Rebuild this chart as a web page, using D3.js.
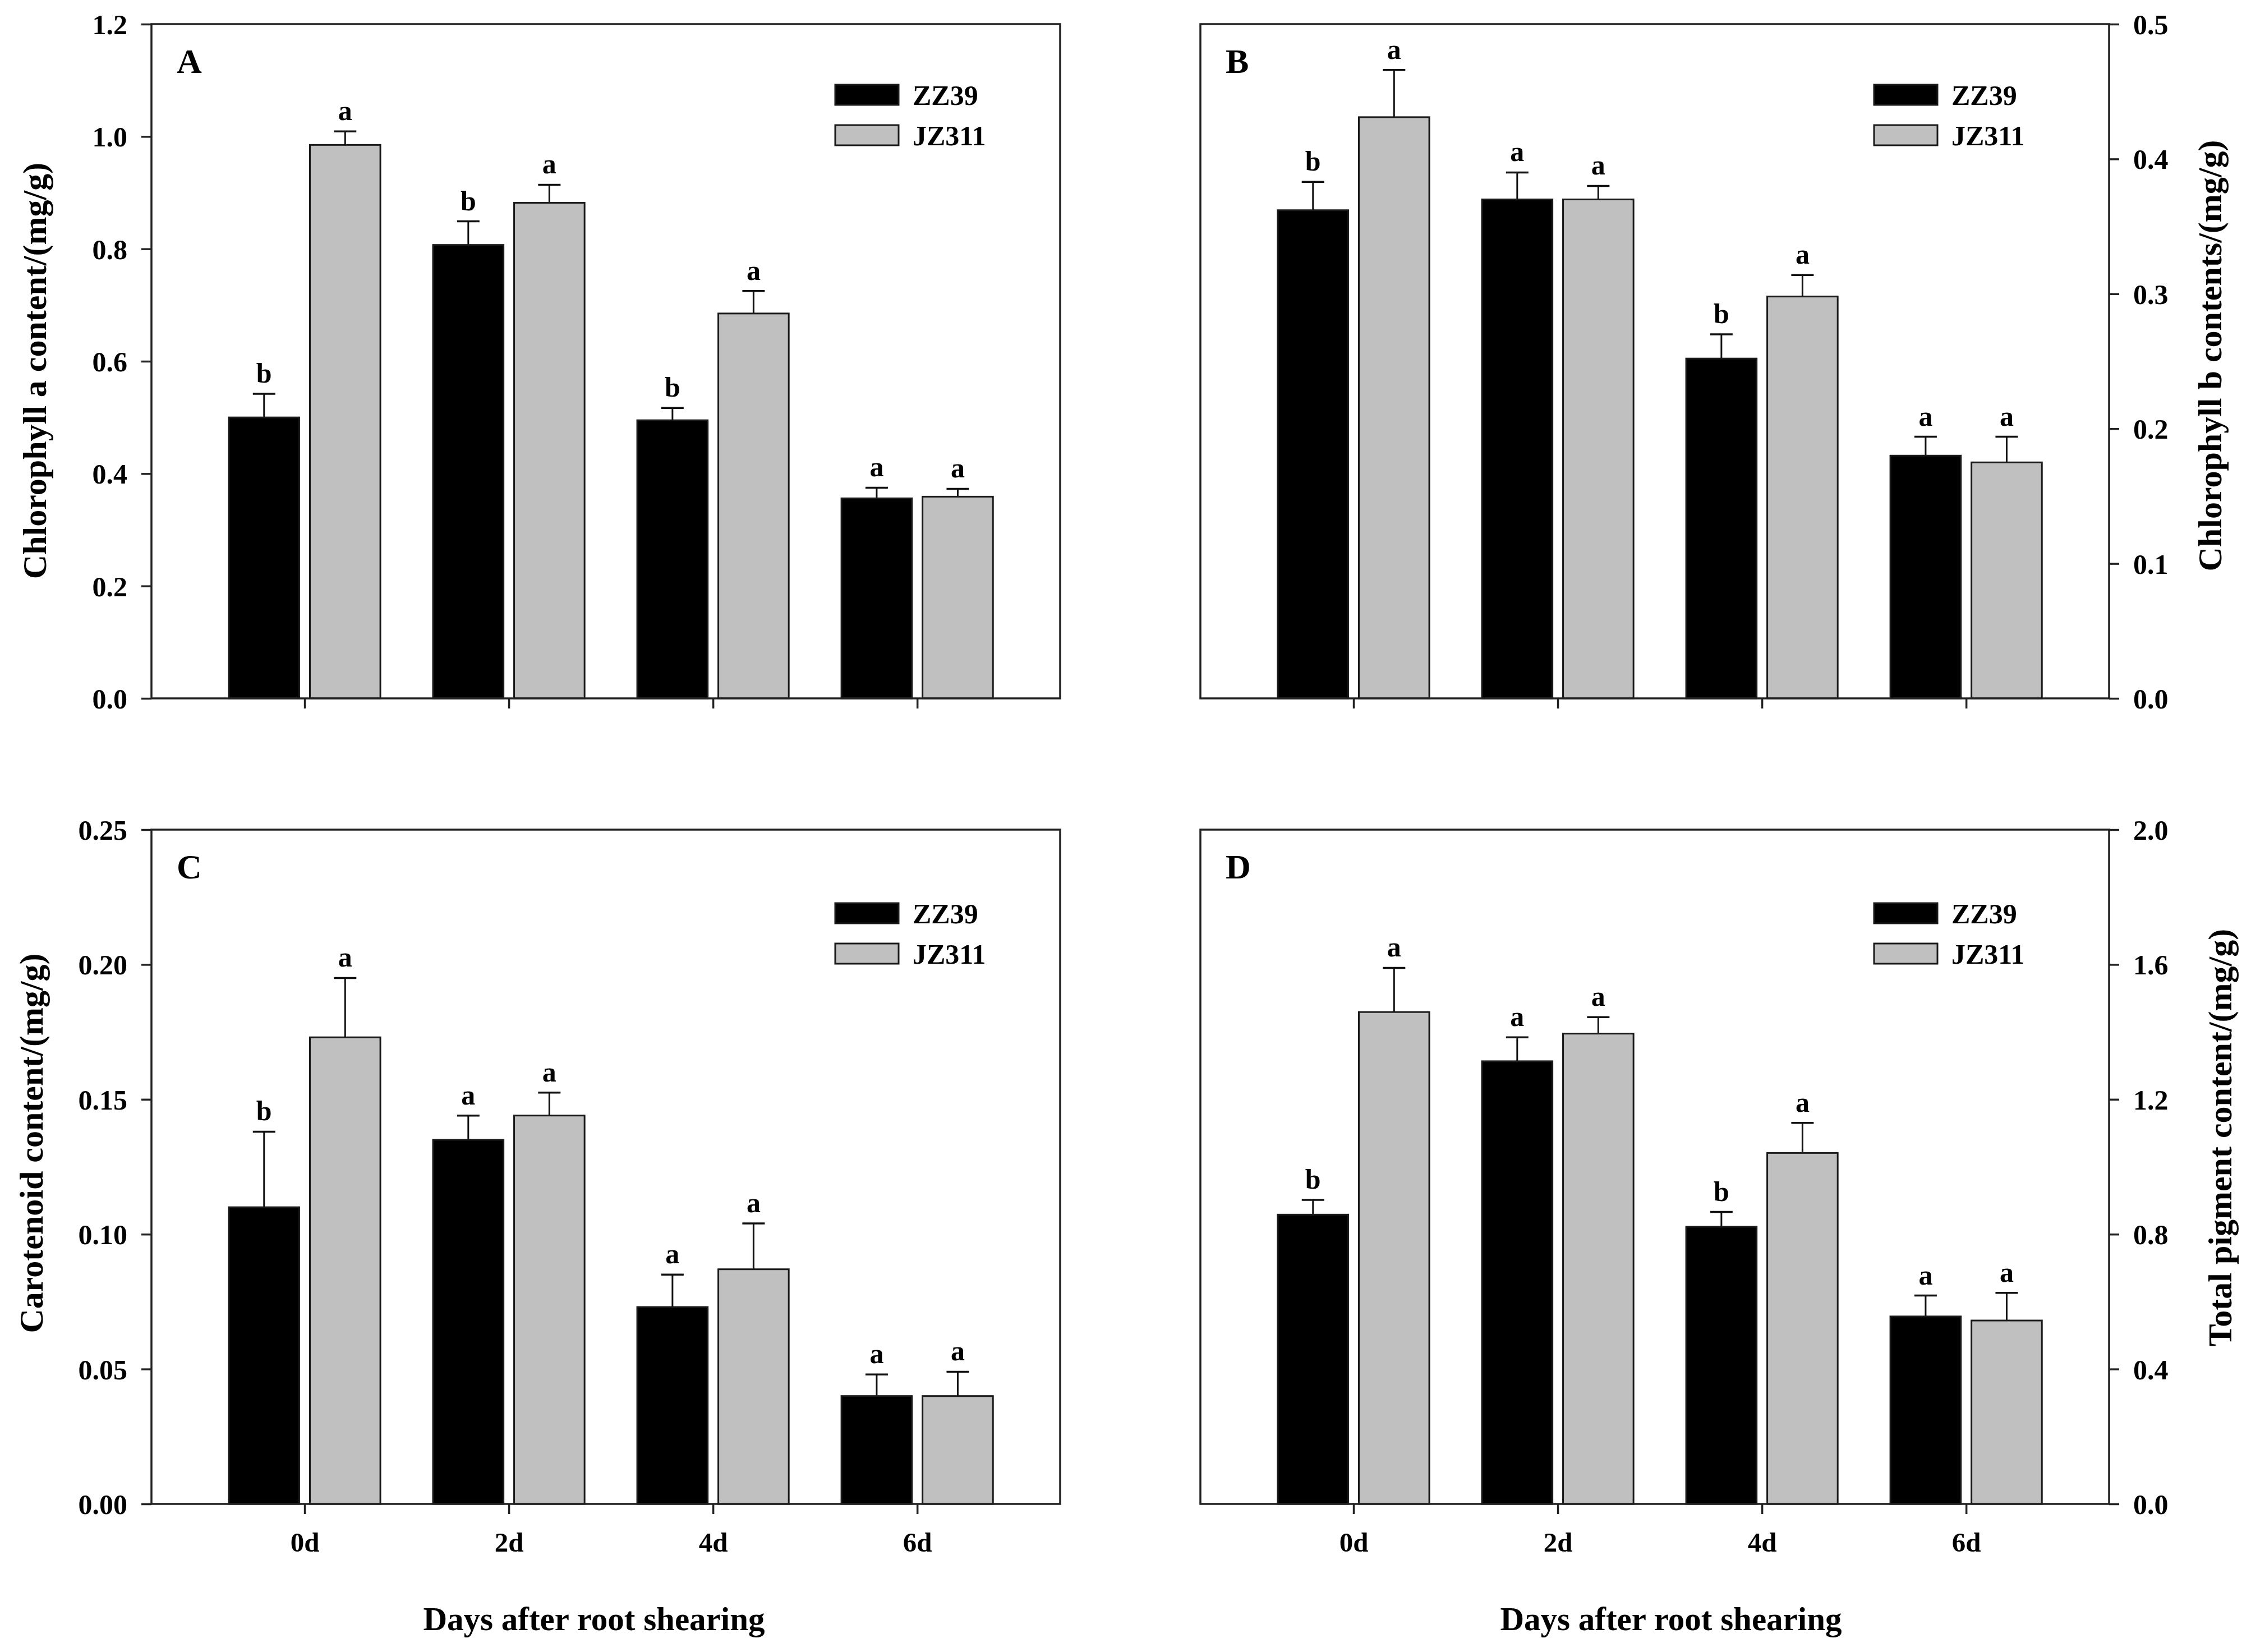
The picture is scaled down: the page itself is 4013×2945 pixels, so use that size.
<!DOCTYPE html>
<html>
<head>
<meta charset="utf-8">
<script src="https://cdn.jsdelivr.net/npm/d3@7"></script>
<style>
  body { margin: 0; background: #fff; }
  svg { display: block; }
  text { font-family: "Liberation Serif", "Times New Roman", serif; font-weight: bold; fill: #000; }
</style>
</head>
<body>
<svg id="chart" width="4013" height="2945"></svg>
<script>
// categories
const days = ['0d', '2d', '4d', '6d'];
const cultivars = ['ZZ39', 'JZ311'];

// A: chlorophyll a
const chlA_zz39 = [0.500, 0.807, 0.495, 0.356];
const chlA_zz39_err = [0.042, 0.042, 0.022, 0.019];
const chlA_jz311 = [0.985, 0.882, 0.685, 0.359];
const chlA_jz311_err = [0.024, 0.032, 0.040, 0.014];
const chlA_zz39_sig = ['b', 'b', 'b', 'a'];
const chlA_jz311_sig = ['a', 'a', 'a', 'a'];
const chlA_ticks = [0, 0.2, 0.4, 0.6, 0.8, 1.0, 1.2];

// B: chlorophyll b
const chlB_zz39 = [0.362, 0.370, 0.252, 0.180];
const chlB_zz39_err = [0.021, 0.020, 0.018, 0.014];
const chlB_jz311 = [0.431, 0.370, 0.298, 0.175];
const chlB_jz311_err = [0.035, 0.010, 0.016, 0.019];
const chlB_zz39_sig = ['b', 'a', 'b', 'a'];
const chlB_jz311_sig = ['a', 'a', 'a', 'a'];
const chlB_ticks = [0, 0.1, 0.2, 0.3, 0.4, 0.5];

// C: carotenoid
const car_zz39 = [0.110, 0.135, 0.073, 0.040];
const car_zz39_err = [0.028, 0.009, 0.012, 0.008];
const car_jz311 = [0.173, 0.144, 0.087, 0.040];
const car_jz311_err = [0.022, 0.0085, 0.017, 0.009];
const car_zz39_sig = ['b', 'a', 'a', 'a'];
const car_jz311_sig = ['a', 'a', 'a', 'a'];
const car_ticks = [0, 0.05, 0.10, 0.15, 0.20, 0.25];

// D: total pigment
const tot_zz39 = [0.858, 1.313, 0.822, 0.556];
const tot_zz39_err = [0.044, 0.071, 0.044, 0.062];
const tot_jz311 = [1.459, 1.395, 1.041, 0.544];
const tot_jz311_err = [0.131, 0.049, 0.089, 0.082];
const tot_zz39_sig = ['b', 'a', 'b', 'a'];
const tot_jz311_sig = ['a', 'a', 'a', 'a'];
const tot_ticks = [0, 0.4, 0.8, 1.2, 1.6, 2.0];

const colors = ['#000000', '#c0c0c0'];
const xTitle = 'Days after root shearing';

const panels = [
    {letter: 'A', left: 270, top: 43, side: 'left', max: 1.2, ticks: chlA_ticks, fmt: '.1f',
     title: 'Chlorophyll a content/(mg/g)', titleX: 64, titleY: 661, legDx: 1219, legDy: 108,
     series: [[chlA_zz39, chlA_zz39_err, chlA_zz39_sig], [chlA_jz311, chlA_jz311_err, chlA_jz311_sig]]},
    {letter: 'B', left: 2140, top: 43, side: 'right', max: 0.5, ticks: chlB_ticks, fmt: '.1f',
     title: 'Chlorophyll b contents/(mg/g)', titleX: 3942, titleY: 634, legDx: 1201, legDy: 108,
     series: [[chlB_zz39, chlB_zz39_err, chlB_zz39_sig], [chlB_jz311, chlB_jz311_err, chlB_jz311_sig]]},
    {letter: 'C', left: 270, top: 1479, side: 'left', max: 0.25, ticks: car_ticks, fmt: '.2f',
     title: 'Carotenoid content/(mg/g)', titleX: 58, titleY: 2038, legDx: 1219, legDy: 131,
     xLabels: true, xTitleX: 1059,
     series: [[car_zz39, car_zz39_err, car_zz39_sig], [car_jz311, car_jz311_err, car_jz311_sig]]},
    {letter: 'D', left: 2140, top: 1479, side: 'right', max: 2.0, ticks: tot_ticks, fmt: '.1f',
     title: 'Total pigment content/(mg/g)', titleX: 3960, titleY: 2028, legDx: 1201, legDy: 131,
     xLabels: true, xTitleX: 2979,
     series: [[tot_zz39, tot_zz39_err, tot_zz39_sig], [tot_jz311, tot_jz311_err, tot_jz311_sig]]}
];

const width = 1620, height = 1202;
const svg = d3.select('#chart');
svg.append('rect').attr('width', 4013).attr('height', 2945).attr('fill', '#fff');

function drawPanel(p) {
    let g = svg.append('g').attr('transform', `translate(${p.left},${p.top})`),
        x = d3.scaleLinear().domain([-0.75, 3.7]).range([0, width]),
        y = d3.scaleLinear().domain([0, p.max]).range([height, 0]),
        step = x(1) - x(0),
        bw = step * 0.345,
        gap = step * 0.052;

    // bars, error bars, letters
    p.series.forEach(function(s, k) {
        let rows = s[0].map((v, i) => ({i: i, v: v, e: s[1][i], sig: s[2][i]}));
        let bx = d => k === 0 ? x(d.i) - gap / 2 - bw : x(d.i) + gap / 2;
        let sg = g.append('g');
        sg.selectAll('line.err').data(rows).enter().append('line')
            .attr('class', 'err')
            .attr('x1', d => bx(d) + bw / 2).attr('x2', d => bx(d) + bw / 2)
            .attr('y1', d => y(d.v)).attr('y2', d => y(d.v + d.e))
            .attr('stroke', '#111').attr('stroke-width', 3);
        sg.selectAll('line.cap').data(rows).enter().append('line')
            .attr('class', 'cap')
            .attr('x1', d => bx(d) + bw / 2 - 20).attr('x2', d => bx(d) + bw / 2 + 20)
            .attr('y1', d => y(d.v + d.e)).attr('y2', d => y(d.v + d.e))
            .attr('stroke', '#111').attr('stroke-width', 3.5);
        sg.selectAll('rect').data(rows).enter().append('rect')
            .attr('x', bx).attr('width', bw)
            .attr('y', d => y(d.v)).attr('height', d => height - y(d.v))
            .attr('fill', colors[k]).attr('stroke', '#1a1a1a').attr('stroke-width', 3);
        sg.selectAll('text').data(rows).enter().append('text')
            .attr('x', d => bx(d) + bw / 2).attr('y', d => y(d.v + d.e) - 20)
            .attr('text-anchor', 'middle').style('font-size', '50px')
            .text(d => d.sig);
    });

    // frame
    g.append('rect').attr('width', width).attr('height', height)
        .attr('fill', 'none').attr('stroke', '#222').attr('stroke-width', 3.5);

    // y axis
    let yAxis = (p.side === 'left' ? d3.axisLeft(y) : d3.axisRight(y))
        .tickValues(p.ticks).tickFormat(d3.format(p.fmt))
        .tickSize(18).tickSizeOuter(0).tickPadding(25);
    let ya = g.append('g')
        .attr('transform', p.side === 'left' ? null : `translate(${width},0)`)
        .call(yAxis);
    ya.select('.domain').remove();
    ya.selectAll('line').attr('stroke', '#222').attr('stroke-width', 3.5);
    ya.selectAll('text').style('font-size', '50px').style('font-family', null).attr('dy', '0.35em');
    ya.attr('font-family', null).attr('font-size', null);

    // x axis
    let xAxis = d3.axisBottom(x).tickValues([0, 1, 2, 3])
        .tickFormat(i => p.xLabels ? days[i] : '')
        .tickSize(18).tickSizeOuter(0).tickPadding(32);
    let xa = g.append('g').attr('transform', `translate(0,${height})`).call(xAxis);
    xa.select('.domain').remove();
    xa.selectAll('line').attr('stroke', '#222').attr('stroke-width', 3.5);
    xa.selectAll('text').style('font-size', '49px');
    xa.attr('font-family', null).attr('font-size', null);

    // panel letter
    g.append('text').attr('x', 45).attr('y', 87).style('font-size', '62px').text(p.letter);

    // legend
    let leg = g.append('g').attr('transform', `translate(${p.legDx},${p.legDy})`);
    cultivars.forEach(function(c, k) {
        leg.append('rect').attr('x', 0).attr('y', k * 72).attr('width', 113).attr('height', 36)
            .attr('fill', colors[k]).attr('stroke', '#1a1a1a').attr('stroke-width', 3);
        leg.append('text').attr('x', 138).attr('y', k * 72 + 18).attr('dy', '0.36em')
            .style('font-size', '50px').text(c);
    });

    // y title
    svg.append('text')
        .attr('transform', `translate(${p.titleX},${p.titleY}) rotate(-90)`)
        .attr('text-anchor', 'middle').attr('dy', '0.3em')
        .style('font-size', '60px').text(p.title);

    // x title
    if (p.xLabels) {
        svg.append('text').attr('x', p.xTitleX).attr('y', p.top + height + 225)
            .attr('text-anchor', 'middle').style('font-size', '59px').text(xTitle);
    }
}

panels.forEach(drawPanel);
</script>
</body>
</html>
